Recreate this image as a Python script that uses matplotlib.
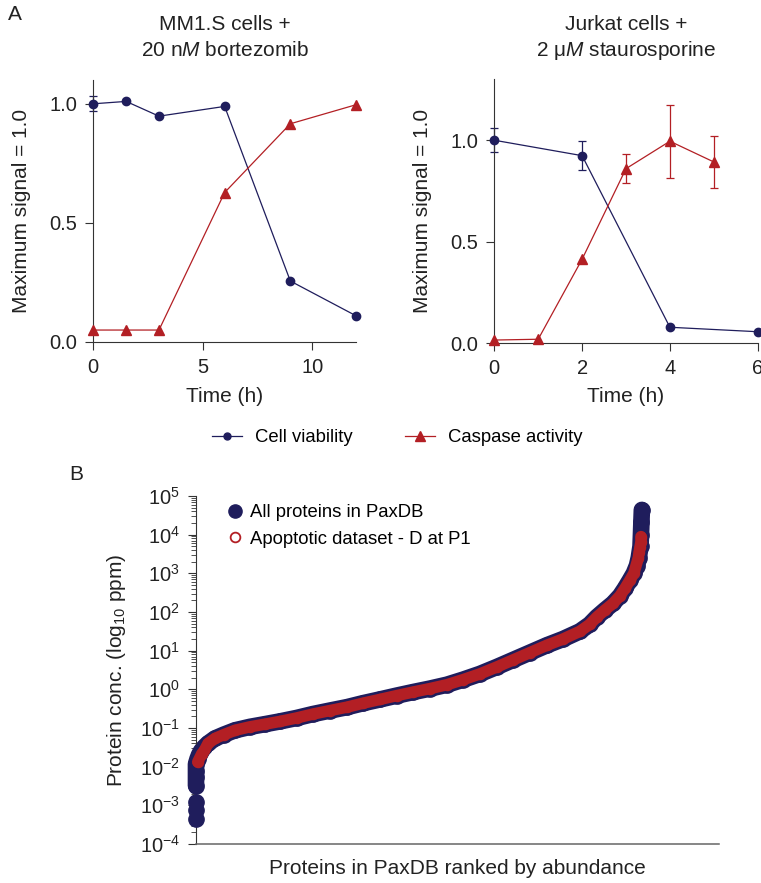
"""
Apoptosis time courses (panel A) and PaxDB abundance ranking (panel B).
"""

import numpy as np
import matplotlib
matplotlib.use('Agg')
import matplotlib.pyplot as plt
from matplotlib.lines import Line2D
from matplotlib.ticker import LogLocator, NullFormatter

plt.rcParams['font.family'] = ['Liberation Sans', 'DejaVu Sans']
plt.rcParams['mathtext.fontset'] = 'custom'
plt.rcParams['mathtext.rm'] = 'Liberation Sans'
plt.rcParams['mathtext.it'] = 'Liberation Sans:italic'

NAVY = '#1f1d5c'
RED = '#b31f24'
AXIS = '#333333'
TEXT = '#222222'
W, H = 761, 883

### PANEL A DATA
mm1s_time = [0, 1.5, 3, 6, 9, 12]
mm1s_viability = [1.0, 1.01, 0.948, 0.989, 0.255, 0.109]
mm1s_viability_err = [0.032, 0, 0, 0, 0, 0]
mm1s_caspase = [0.049, 0.049, 0.049, 0.627, 0.916, 0.996]

jurkat_viab_time = [0, 2, 4, 6]
jurkat_viability = [1.0, 0.924, 0.079, 0.057]
jurkat_viability_err = [0.06, 0.07, 0, 0]
jurkat_casp_time = [0, 1, 2, 3, 4, 5]
jurkat_caspase = [0.016, 0.02, 0.414, 0.86, 0.995, 0.893]
jurkat_caspase_err = [0, 0, 0, 0.07, 0.18, 0.126]

### PANEL B DATA (rank in % of proteins, log10 ppm)
paxdb_rank = [0, 0, 0, 0, 0.34, 0.67, 1.12, 1.79, 2.69, 4.26, 6.28, 8.74, 12.1, 15.5,
              18.8, 22.6, 26.2, 30.0, 33.9, 37.4, 41.3, 45.1, 48.7, 52.5, 56.3, 59.9,
              63.7, 67.5, 71.1, 74.9, 78.7, 82.3, 86.1, 88.3, 89.9, 91.7, 93.5, 95.1,
              96.2, 97.3, 98.2, 98.9, 99.3, 99.7, 99.8, 99.9, 100]
paxdb_log_ppm = [-2.49, -2.27, -2.10, -1.93, -1.80, -1.70, -1.60, -1.50, -1.40, -1.27,
                 -1.17, -1.06, -0.97, -0.90, -0.83, -0.74, -0.64, -0.55, -0.46, -0.36,
                 -0.26, -0.16, -0.07, 0.02, 0.12, 0.25, 0.40, 0.58, 0.76, 0.95, 1.14,
                 1.30, 1.50, 1.68, 1.87, 2.05, 2.22, 2.42, 2.61, 2.82, 3.00, 3.20, 3.40,
                 3.70, 4.00, 4.33, 4.64]
paxdb_low_rank = [0, 0, 0]
paxdb_low_log_ppm = [-3.35, -3.13, -2.92]

apop_rank = [0.38, 1.28, 1.88, 2.69, 4.26, 6.28, 8.74, 12.1, 15.5, 18.8, 22.6, 26.2,
             30.0, 33.9, 37.4, 41.3, 45.1, 48.7, 52.5, 56.3, 59.9, 63.7, 67.5, 71.1,
             74.9, 78.7, 82.3, 86.1, 88.3, 89.9, 91.7, 93.5, 95.1, 96.2, 97.3, 98.2,
             99.2, 99.4, 99.6, 99.8, 99.8]
apop_log_ppm = [-1.88, -1.67, -1.58, -1.40, -1.27, -1.17, -1.06, -0.97, -0.90, -0.83,
                -0.74, -0.64, -0.55, -0.46, -0.36, -0.26, -0.16, -0.07, 0.02, 0.12,
                0.25, 0.40, 0.58, 0.76, 0.95, 1.14, 1.30, 1.50, 1.68, 1.87, 2.05, 2.22,
                2.42, 2.61, 2.82, 3.00, 3.40, 3.56, 3.69, 3.82, 3.95]


def style_axes(ax):
    for side in ['top', 'right']:
        ax.spines[side].set_visible(False)
    for side in ['left', 'bottom']:
        ax.spines[side].set_color(AXIS)
        ax.spines[side].set_linewidth(0.8)
    ax.tick_params(direction='out', length=6, width=0.8, color=AXIS, pad=5.5,
                   labelsize=14.5, labelcolor=TEXT)


def time_course(ax, vt, v, verr, ct, c, cerr):
    vt, v, verr = map(np.asarray, (vt, v, verr))
    ct, c, cerr = map(np.asarray, (ct, c, cerr))
    ax.plot(vt, v, color=NAVY, lw=0.9, marker='o', ms=6, clip_on=False, zorder=3)
    ax.plot(ct, c, color=RED, lw=0.9, marker='^', ms=7, clip_on=False, zorder=3)
    m = verr > 0
    ax.errorbar(vt[m], v[m], yerr=verr[m], fmt='none', ecolor=NAVY, elinewidth=0.9,
                capsize=3.2, capthick=0.9, clip_on=False, zorder=2)
    m = cerr > 0
    ax.errorbar(ct[m], c[m], yerr=cerr[m], fmt='none', ecolor=RED, elinewidth=0.9,
                capsize=3.2, capthick=0.9, clip_on=False, zorder=2)


fig = plt.figure(figsize=(W / 100, H / 100), dpi=100)

### ax1, MM1.S
ax1 = fig.add_axes([93.3 / W, 1 - 341.7 / H, 262.7 / W, 261.7 / H])
time_course(ax1, mm1s_time, mm1s_viability, mm1s_viability_err,
            mm1s_time, mm1s_caspase, [0] * len(mm1s_time))
ax1.set_xlim(0, 12)
ax1.set_ylim(0, 1.10)
ax1.set_xticks([0, 5, 10])
ax1.set_yticks([0, 0.5, 1.0], ['0.0', '0.5', '1.0'])
style_axes(ax1)

### ax2, Jurkat
ax2 = fig.add_axes([494.3 / W, 1 - 343.3 / H, 263.4 / W, 264 / H])
time_course(ax2, jurkat_viab_time, jurkat_viability, jurkat_viability_err,
            jurkat_casp_time, jurkat_caspase, jurkat_caspase_err)
ax2.set_xlim(0, 6)
ax2.set_ylim(0, 1.30)
ax2.set_xticks([0, 2, 4, 6])
ax2.set_yticks([0, 0.5, 1.0], ['0.0', '0.5', '1.0'])
style_axes(ax2)

# titles and labels of panel A
for cx, l1, l2 in [(224.7, 'MM1.S cells +', r'20 n$\mathit{M}$ bortezomib'),
                   (626, 'Jurkat cells +', '2 \u03bc' + r'$\mathit{M}$ staurosporine')]:
    fig.text(cx / W, 1 - 24 / H, l1, ha='center', va='center', fontsize=15, color=TEXT)
    fig.text(cx / W, 1 - 50 / H, l2, ha='center', va='center', fontsize=15, color=TEXT)
    fig.text(cx / W, 1 - 396 / H, 'Time (h)', ha='center', va='center', fontsize=15,
             color=TEXT)
for cx in [22, 423]:
    fig.text(cx / W, 1 - 211 / H, 'Maximum signal = 1.0', ha='center', va='center',
             rotation=90, fontsize=15, color=TEXT)

handles = [Line2D([], [], color=NAVY, lw=0.9, marker='o', ms=5),
           Line2D([], [], color=RED, lw=0.9, marker='^', ms=7)]
fig.legend(handles, ['Cell viability', 'Caspase activity'], loc='center',
           bbox_to_anchor=(0.522, 1 - 438 / H), ncol=2, frameon=False, fontsize=13.3,
           handlelength=1.66, handletextpad=0.7, columnspacing=2.8)

### ax3, PaxDB ranking
ax3 = fig.add_axes([196 / W, 1 - 844 / H, 523 / W, 348 / H])
pax_ppm = 10 ** np.asarray(paxdb_log_ppm)
apop_ppm = 10 ** np.asarray(apop_log_ppm)
ax3.plot(paxdb_rank, pax_ppm, color=NAVY, lw=12, solid_capstyle='round',
         solid_joinstyle='round', clip_on=False, zorder=2)
ax3.plot(paxdb_rank + paxdb_low_rank, np.r_[pax_ppm, 10 ** np.asarray(paxdb_low_log_ppm)],
         ls='none', marker='o', ms=11, color=NAVY, clip_on=False, zorder=3)
ax3.plot(apop_rank, apop_ppm, color=RED, lw=8.3, solid_capstyle='round',
         solid_joinstyle='round', clip_on=False, zorder=4)
ax3.plot(apop_rank, apop_ppm, ls='none', marker='o', ms=7, mfc='none', mec=RED,
         mew=1.3, clip_on=False, zorder=5)
ax3.set_yscale('log')
ax3.set_ylim(1e-4, 1e5)
ax3.set_xlim(0, 117.3)
ax3.yaxis.set_major_locator(LogLocator(base=10, numticks=20))
ax3.yaxis.set_minor_locator(LogLocator(base=10, subs=np.arange(2, 10), numticks=20))
ax3.yaxis.set_minor_formatter(NullFormatter())
ax3.set_xticks([])
style_axes(ax3)
ax3.tick_params(axis='y', which='minor', length=3.5, width=0.6, color=AXIS)
ax3.spines['bottom'].set_color('#666666')
ax3.spines['bottom'].set_linewidth(1.1)

leg_handles = [Line2D([], [], ls='none', marker='o', ms=9.5, color=NAVY),
               Line2D([], [], ls='none', marker='o', ms=7, mfc='none', mec=RED, mew=1.3)]
ax3.legend(leg_handles, ['All proteins in PaxDB', 'Apoptotic dataset - D at P1'],
           loc='upper left', bbox_to_anchor=(0.057, 0.976), frameon=False, fontsize=13.3,
           borderpad=0, borderaxespad=0, handlelength=1, handletextpad=0.3,
           labelspacing=0.5)

fig.text(117 / W, 1 - 670 / H, r'Protein conc. (log$_{10}$ ppm)', ha='center',
         va='center', rotation=90, fontsize=15, color=TEXT)
fig.text(457.5 / W, 1 - 868 / H, 'Proteins in PaxDB ranked by abundance', ha='center',
         va='center', fontsize=15, color=TEXT)

fig.text(15 / W, 1 - 15 / H, 'A', ha='center', va='center', fontsize=15, color=TEXT)
fig.text(76 / W, 1 - 475 / H, 'B', ha='center', va='center', fontsize=15, color=TEXT)

fig.savefig('out.png', dpi=100)
